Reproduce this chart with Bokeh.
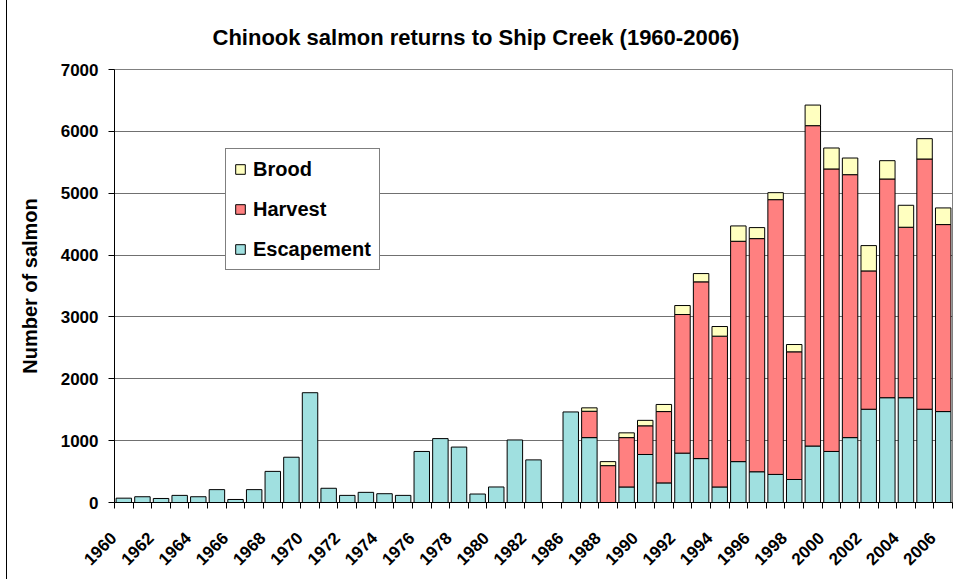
import math
from bokeh.plotting import figure
from bokeh.models import ColumnDataSource, FixedTicker, Legend, LegendItem, Range1d
from bokeh.embed import file_html
from bokeh.resources import INLINE

years = [str(y) for y in range(1960, 1983)] + ["1985"] + [str(y) for y in range(1986, 2007)]

escapement = [70, 93, 65, 115, 93, 208, 49, 208, 503, 732,
              1775, 230, 115, 164, 142, 115, 825, 1033, 896, 137,
              251, 1011, 689, 0,
              1464, 1049, 0, 251, 776, 317, 798, 710, 251, 661,
              497, 454, 372, 913, 825, 1049, 1508, 1694, 1694, 1508, 1470]
harvest = [0] * 25 + [426, 596, 798, 464, 1153, 2241, 2857, 2438, 3562, 3769,
                      4442, 2064, 5179, 4567, 4251, 2236, 3536, 2756, 4045, 3023]
brood = [0] * 25 + [55, 65, 77, 88, 115, 145, 134, 156, 248, 178,
                    113, 118, 333, 339, 269, 409, 296, 355, 329, 269]

y_ticks = [0, 1000, 2000, 3000, 4000, 5000, 6000, 7000]

TITLE = "Chinook salmon returns to Ship Creek (1960-2006)"
FONT = "Liberation Sans"
C_ESC = "#A0E0E0"
C_HAR = "#FF8080"
C_BRO = "#FFFFC0"

n = len(years)
xs = list(range(n))


def segment_source(bottoms, heights):
    sx, sb, st = [], [], []
    for i in xs:
        if heights[i] > 0:
            sx.append(i)
            sb.append(bottoms[i])
            st.append(bottoms[i] + heights[i])
    return ColumnDataSource(dict(x=sx, bottom=sb, top=st))


esc_src = segment_source([0] * n, escapement)
har_src = segment_source(escapement, harvest)
bro_src = segment_source([e + h for e, h in zip(escapement, harvest)], brood)

p = figure(width=950, height=579, output_backend="svg", toolbar_location=None,
           x_range=Range1d(-0.5, n - 0.5), y_range=Range1d(0, 7000),
           min_border_left=107, min_border_right=5, min_border_top=69, min_border_bottom=77,
           styles={"margin-left": "6px", "border-left": "1px solid black"})

bw = 0.83
r_esc = p.vbar(x="x", bottom="bottom", top="top", width=bw, source=esc_src,
               fill_color=C_ESC, line_color="black", line_width=1)
r_har = p.vbar(x="x", bottom="bottom", top="top", width=bw, source=har_src,
               fill_color=C_HAR, line_color="black", line_width=1)
r_bro = p.vbar(x="x", bottom="bottom", top="top", width=bw, source=bro_src,
               fill_color=C_BRO, line_color="black", line_width=1)

# title
p.title.text = TITLE
p.title.text_font = FONT
p.title.text_font_size = "22px"
p.title.text_font_style = "bold"
p.title.text_color = "black"
p.title.align = "left"
p.title.offset = 98
p.title.vertical_align = "bottom"
p.title.standoff = 40

# x axis
label_pos = [i for i in xs if i % 2 == 0]
xax = p.xaxis[0]
xax.ticker = FixedTicker(ticks=label_pos, minor_ticks=[k - 0.5 for k in range(n + 1)])
xax.major_label_overrides = {i: years[i] + "   " for i in label_pos}
xax.major_label_orientation = math.pi / 4
xax.major_label_text_font = FONT
xax.major_label_text_font_size = "17px"
xax.major_label_text_font_style = "bold"
xax.major_label_text_color = "black"
xax.major_tick_out = 0
xax.major_tick_in = 0
xax.minor_tick_out = 6
xax.minor_tick_in = 0
xax.minor_tick_line_color = "black"
xax.axis_line_color = "black"
xax.major_label_standoff = 17

# y axis
yax = p.yaxis[0]
yax.ticker = FixedTicker(ticks=y_ticks, minor_ticks=[])
yax.major_label_text_font = FONT
yax.major_label_text_font_size = "17px"
yax.major_label_text_font_style = "bold"
yax.major_label_text_color = "black"
yax.major_tick_out = 6
yax.major_tick_in = 0
yax.major_tick_line_color = "black"
yax.axis_line_color = "black"
yax.major_label_standoff = 10
yax.axis_label = "Number of salmon"
yax.axis_label_text_font = FONT
yax.axis_label_text_font_size = "20px"
yax.axis_label_text_font_style = "bold"
yax.axis_label_text_color = "black"
yax.axis_label_standoff = 17

p.xgrid.visible = False
p.ygrid.ticker = FixedTicker(ticks=y_ticks)
p.ygrid.grid_line_color = "#707070"
p.outline_line_color = "#808080"
p.background_fill_color = "white"
p.border_fill_color = "white"

legend = Legend(items=[LegendItem(label="Brood", renderers=[r_bro]),
                       LegendItem(label="Harvest", renderers=[r_har]),
                       LegendItem(label="Escapement", renderers=[r_esc])],
                location=(111, 232))
legend.label_text_font = FONT
legend.label_text_font_size = "20px"
legend.label_text_font_style = "bold"
legend.label_text_color = "black"
legend.label_height = 24
legend.glyph_width = 12
legend.glyph_height = 12
legend.spacing = 16
legend.padding = 8
legend.margin = 0
legend.label_standoff = 7
legend.border_line_color = "black"
legend.border_line_width = 1
legend.background_fill_alpha = 1
p.add_layout(legend, "center")

open("out.html", "w").write(file_html(p, INLINE))
